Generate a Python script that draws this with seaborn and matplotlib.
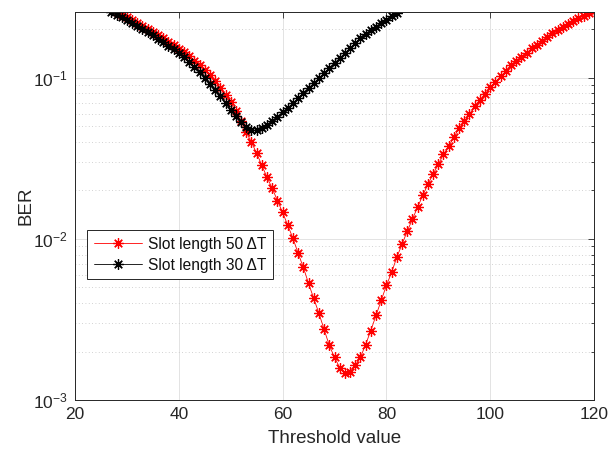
import matplotlib
matplotlib.use("Agg")
import matplotlib.pyplot as plt
import numpy as np
import pandas as pd
import seaborn as sns
from matplotlib.ticker import LogLocator, NullLocator, FixedLocator, NullFormatter

# ---- data ----
thr_50 = list(range(28, 121))
ber_50 = [0.2551, 0.2462, 0.2375, 0.2275, 0.2181, 0.2089, 0.2001, 0.1917, 0.1837, 0.1759,
          0.1673, 0.1591, 0.1514, 0.1440, 0.1360, 0.1275, 0.1196, 0.1113, 0.1036, 0.0951,
          0.0861, 0.0778, 0.0705, 0.0619, 0.0537, 0.0459, 0.0398, 0.0340, 0.0286, 0.0241,
          0.0206, 0.0173, 0.0146, 0.01213, 0.01007, 0.00813, 0.00665, 0.00529, 0.00427, 0.00345,
          0.00274, 0.00218, 0.00184, 0.00159, 0.00148, 0.00150, 0.00164, 0.00184, 0.00221, 0.00270,
          0.00335, 0.00415, 0.00514, 0.00619, 0.00768, 0.00924, 0.01113, 0.01322, 0.0157, 0.0186,
          0.0218, 0.0252, 0.0290, 0.0335, 0.0375, 0.0427, 0.0486, 0.0537, 0.0593, 0.0665,
          0.0725, 0.0789, 0.0873, 0.0938, 0.1022, 0.1097, 0.1196, 0.1266, 0.1341, 0.1420,
          0.1525, 0.1591, 0.1685, 0.1785, 0.1890, 0.1972, 0.2059, 0.2150, 0.2243, 0.2342,
          0.2410, 0.2515, 0.2588]

thr_30 = list(range(27, 83))
ber_30 = [0.2551, 0.2462, 0.2375, 0.2275, 0.2181, 0.2089, 0.2001, 0.1917, 0.1837, 0.1747,
          0.1661, 0.1580, 0.1503, 0.1420, 0.1341, 0.1248, 0.1162, 0.1082, 0.0993, 0.0911,
          0.0836, 0.0767, 0.0694, 0.0628, 0.0577, 0.0529, 0.0493, 0.0472, 0.0472, 0.0486,
          0.0507, 0.0537, 0.0568, 0.0610, 0.0651, 0.0694, 0.0746, 0.0801, 0.0861, 0.0924,
          0.0993, 0.1066, 0.1146, 0.1231, 0.1322, 0.1420, 0.1525, 0.1637, 0.1759, 0.1863,
          0.1972, 0.2074, 0.2181, 0.2292, 0.2410, 0.2533]

series_labels = ["Slot length 50 \u0394T", "Slot length 30 \u0394T"]
series_colors = ["#ff0000", "#000000"]
x_ticks = [20, 40, 60, 80, 100, 120]
y_ticks = [1e-3, 1e-2, 1e-1]
x_label = "Threshold value"
y_label = "BER"

# ---- style ----
sns.set_theme(style="white")
plt.rcParams['font.family'] = ['Liberation Sans', 'DejaVu Sans']
plt.rcParams['mathtext.fontset'] = 'custom'
plt.rcParams['mathtext.rm'] = 'Liberation Sans'
plt.rcParams['mathtext.it'] = 'Liberation Sans:italic'
plt.rcParams['mathtext.default'] = 'regular'

W, H = 613, 449
fig = plt.figure(figsize=(W / 100, H / 100), dpi=100)
L, R, T, B = 75, 594, 12, 400
ax = fig.add_axes([L / W, 1 - B / H, (R - L) / W, (B - T) / H])

axcol = "#262626"
asterisk = (8, 2, 0)

df50 = pd.DataFrame({"thr": thr_50, "ber": ber_50})
df30 = pd.DataFrame({"thr": thr_30, "ber": ber_30})

sns.lineplot(data=df50, x="thr", y="ber", ax=ax, color=series_colors[0],
             marker=asterisk, markersize=7.5, markeredgecolor=series_colors[0],
             markeredgewidth=0.9, linewidth=0.6, label=series_labels[0])
sns.lineplot(data=df30, x="thr", y="ber", ax=ax, color=series_colors[1],
             marker=asterisk, markersize=7.5, markeredgecolor=series_colors[1],
             markeredgewidth=0.9, linewidth=0.6, label=series_labels[1])

ax.set_yscale("log")
ax.set_xlim(20, 120)
ax.set_ylim(1e-3, 0.256)
ax.xaxis.set_major_locator(FixedLocator(x_ticks))
ax.xaxis.set_minor_locator(NullLocator())
ax.yaxis.set_major_locator(FixedLocator(y_ticks))
ax.yaxis.set_minor_locator(LogLocator(base=10, subs=np.arange(2, 10)))
ax.yaxis.set_minor_formatter(NullFormatter())

ax.grid(True, which="major", color="#e3e3e3", linewidth=0.7, linestyle="-")
ax.yaxis.grid(True, which="minor", color="#c4c4c4", linewidth=0.6, linestyle=(0, (1, 3)))
ax.set_axisbelow(True)

ax.tick_params(which="both", direction="in", top=True, right=True, colors=axcol,
               labelcolor=axcol, labelsize=12.5, width=0.6)
ax.tick_params(which="major", length=4, pad=5)
ax.tick_params(which="minor", length=2.2)
for s in ax.spines.values():
    s.set_color(axcol)
    s.set_linewidth(0.7)

ax.set_xlabel(x_label, fontsize=13.5, color=axcol, labelpad=6)
ax.set_ylabel(y_label, fontsize=13.5, color=axcol, labelpad=-1)

leg = ax.legend(loc="upper left", bbox_to_anchor=((87 - L) / (R - L), (B - 230) / (B - T)),
                borderaxespad=0, frameon=True, fancybox=False, framealpha=1,
                edgecolor=axcol, fontsize=11.2, handlelength=3.1, handletextpad=0.4,
                borderpad=0.42, labelspacing=0.4)
leg.get_frame().set_linewidth(0.7)
for t in leg.get_texts():
    t.set_color("#111111")

fig.savefig("out.png", dpi=100)
